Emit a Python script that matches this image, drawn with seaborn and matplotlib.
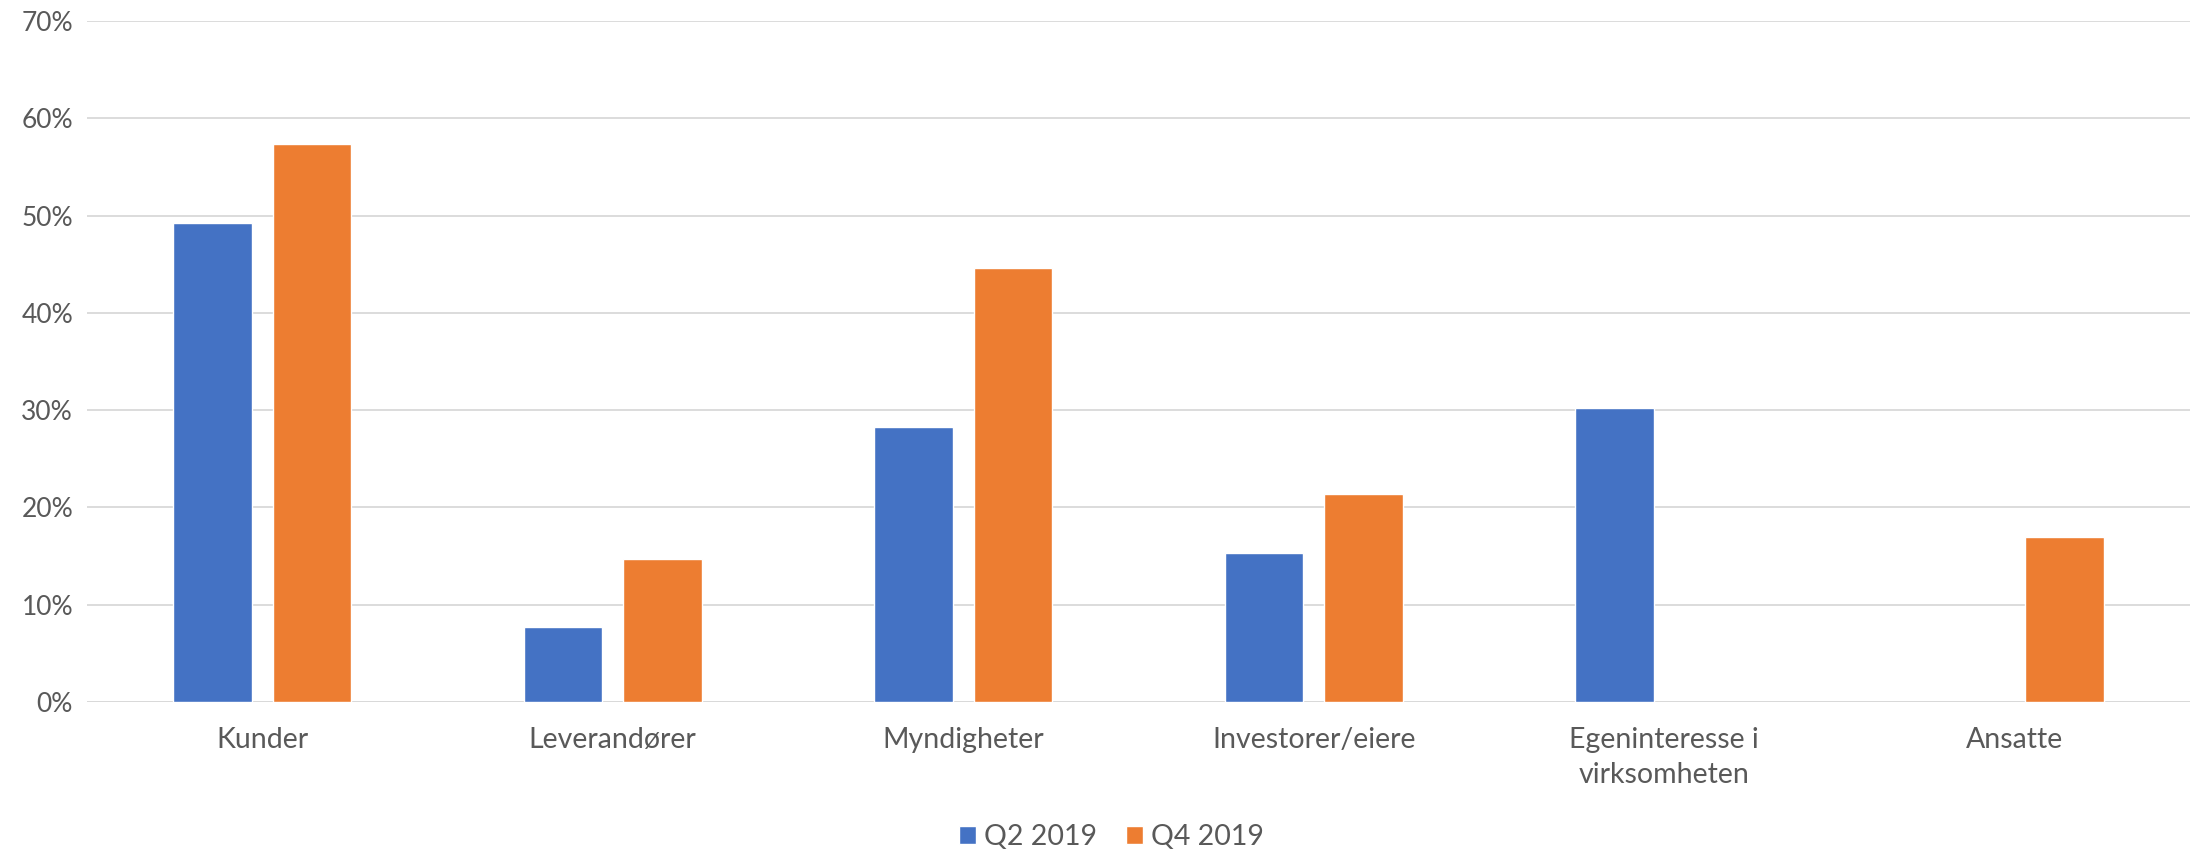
import numpy as np
import pandas as pd
import matplotlib
matplotlib.use("Agg")
import matplotlib.pyplot as plt
import seaborn as sns
from matplotlib.ticker import PercentFormatter

categories = ["Kunder", "Leverandører", "Myndigheter", "Investorer/eiere",
              "Egeninteresse i\nvirksomheten", "Ansatte"]
q2_2019 = [49.2, 7.7, 28.3, 15.3, 30.2, np.nan]
q4_2019 = [57.4, 14.7, 44.6, 21.4, np.nan, 16.9]
series_names = ["Q2 2019", "Q4 2019"]
colors = ["#4472C4", "#ED7D31"]

df = pd.DataFrame({
    "kategori": categories * 2,
    "andel": q2_2019 + q4_2019,
    "periode": [series_names[0]] * len(categories) + [series_names[1]] * len(categories),
})

sns.set_theme(style="white")
plt.rcParams["font.family"] = ["Lato", "DejaVu Sans"]

fig = plt.figure(figsize=(22.01, 8.57), dpi=100)
ax = fig.add_axes([0.0395, 0.181, 0.9555, 0.7945])

sns.barplot(data=df, x="kategori", y="andel", hue="periode", order=categories,
            hue_order=series_names, palette=colors, width=0.568, gap=0.21,
            saturation=1, ax=ax)

ax.set_ylim(0, 70)
ax.set_xlim(-0.5, len(categories) - 0.5)
ax.set_yticks(np.arange(0, 71, 10))
ax.yaxis.set_major_formatter(PercentFormatter(decimals=0))
ax.yaxis.grid(True, color="#D9D9D9", linewidth=1.3)
ax.set_axisbelow(True)
for s in ax.spines.values():
    s.set_visible(False)
ax.axhline(0, color="#D9D9D9", linewidth=1.3, zorder=0)
ax.set_xlabel("")
ax.set_ylabel("")
ax.tick_params(axis="x", length=0, labelsize=20.5, labelcolor="#595959", pad=18)
ax.tick_params(axis="y", length=0, labelsize=19, labelcolor="#595959", pad=10)
for lbl in ax.get_xticklabels():
    lbl.set_linespacing(1.45)

# legend centred on the whole figure, like the Excel original
handles, labels = ax.get_legend_handles_labels()
ax.get_legend().remove()
fig.legend(handles, labels, loc="lower center", bbox_to_anchor=(0.505, -0.022),
           ncol=2, frameon=False, fontsize=20.5, handlelength=0.6, handleheight=0.6,
           handletextpad=0.3, columnspacing=1.0, labelcolor="#595959")

fig.savefig("out.png", dpi=100)
